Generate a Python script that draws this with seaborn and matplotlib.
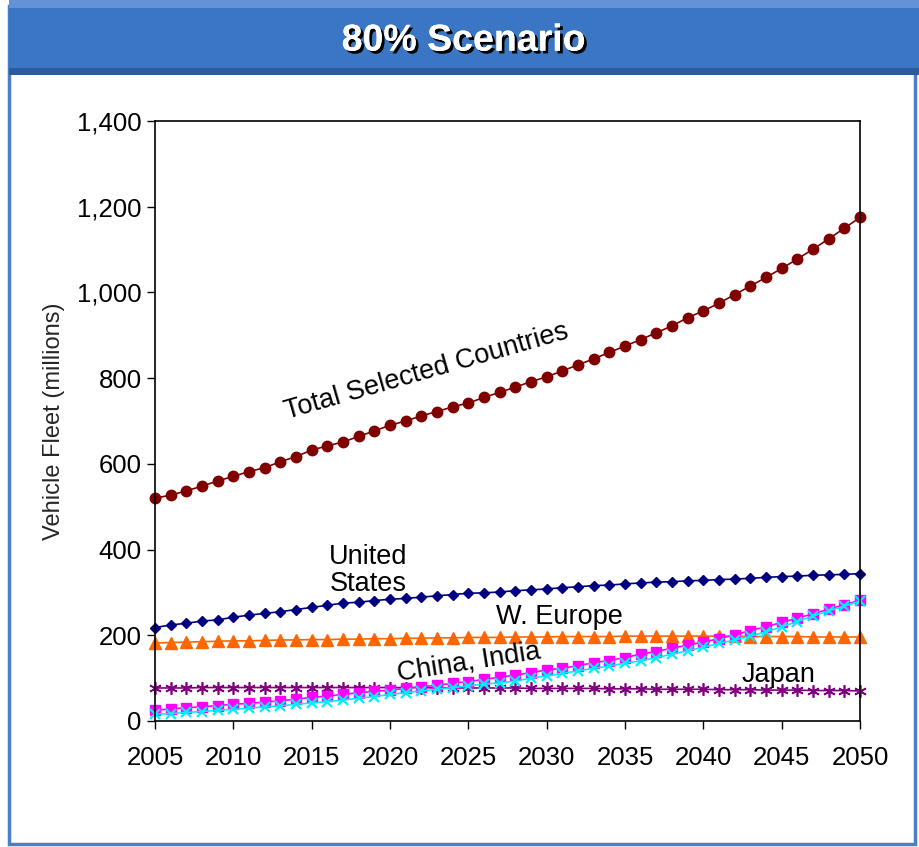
import numpy as np
import pandas as pd
import seaborn as sns
import matplotlib
matplotlib.use('Agg')
import matplotlib.pyplot as plt
import matplotlib.patheffects as pe
from matplotlib.patches import Rectangle

years = list(range(2005, 2051))

total = [520, 527, 537, 548, 560, 571, 582, 591, 605, 617,
         632, 642, 651, 664, 677, 690, 700, 712, 722, 733,
         742, 755, 767, 779, 792, 803, 817, 831, 845, 860,
         875, 890, 906, 922, 941, 957, 975, 995, 1015, 1035,
         1056, 1078, 1101, 1125, 1150, 1175]
us = [218, 224, 228, 233, 236, 242, 247, 251, 255, 260,
      265, 270, 275, 277, 281, 284, 286, 289, 292, 295,
      298, 299, 301, 304, 306, 308, 311, 313, 316, 317,
      320, 322, 324, 325, 327, 328, 330, 331, 333, 335,
      337, 338, 340, 341, 342, 344]
w_europe = [182, 183, 184, 185, 186, 187, 187, 188, 189, 189,
            190, 190, 191, 191, 192, 192, 193, 193, 194, 194,
            195, 195, 195, 196, 196, 196, 197, 197, 197, 197,
            198, 198, 198, 198, 198, 198, 198, 198, 197, 197,
            197, 197, 196, 196, 196, 196]
japan = [77, 77, 77, 78, 78, 78, 78, 78, 78, 78,
         78, 78, 78, 78, 78, 78, 78, 78, 77, 77,
         77, 77, 77, 77, 76, 76, 76, 76, 76, 75,
         75, 75, 74, 74, 74, 74, 73, 73, 73, 72,
         72, 72, 71, 71, 71, 70]
china = [25, 28, 31, 33, 36, 39, 41, 44, 47, 51,
         55, 58, 62, 66, 69, 72, 76, 80, 83, 88,
         92, 97, 102, 107, 113, 119, 123, 129, 136, 141,
         148, 156, 162, 170, 177, 184, 192, 201, 211, 220,
         230, 240, 250, 261, 271, 282]
india = [16, 17, 20, 22, 25, 27, 30, 33, 35, 39,
         42, 45, 49, 53, 57, 62, 66, 70, 74, 78,
         82, 86, 89, 93, 100, 105, 111, 117, 123, 128,
         135, 140, 148, 156, 164, 172, 181, 189, 198, 208,
         220, 232, 245, 257, 268, 280]

# drawing order as in the original (later ones on top)
series = [
    (total, '#800000', 'o', 7.5, 1.0),
    (us, '#000080', 'D', 5.5, 1.0),
    (w_europe, '#FF6600', '^', 8, 1.0),
    (japan, '#800080', (6, 2, 0), 9, 1.2),
    (china, '#FF00FF', 's', 7, 1.0),
    (india, '#00EEFF', 'x', 7.5, 1.6),
]

sns.set_style('white')
plt.rcParams['font.family'] = ['Liberation Sans', 'DejaVu Sans']

fig = plt.figure(figsize=(9.2, 8.47), dpi=100)

# frame and title banner
fig.patches.append(Rectangle((0.010, 0.003), 0.985, 0.990, transform=fig.transFigure,
                             facecolor='white', edgecolor='#4A7FC8', lw=2.5, zorder=0))
fig.patches.append(Rectangle((0.010, 0.911), 0.990, 0.089, transform=fig.transFigure,
                             facecolor='#3B76C4', edgecolor='none', zorder=1))
fig.patches.append(Rectangle((0.010, 0.991), 0.990, 0.009, transform=fig.transFigure,
                             facecolor='#6393D6', edgecolor='none', zorder=1))
fig.patches.append(Rectangle((0.010, 0.911), 0.990, 0.009, transform=fig.transFigure,
                             facecolor='#2D5C9E', edgecolor='none', zorder=1))
fig.text(0.504, 0.952, '80% Scenario', ha='center', va='center', color='white',
         fontsize=27, fontweight='bold', zorder=3,
         path_effects=[pe.withSimplePatchShadow(offset=(2, -2), shadow_rgbFace='black', alpha=1.0),
                       pe.Normal()])

ax = fig.add_axes([0.1685, 0.1488, 0.7663, 0.7083])
ax.set_zorder(5)
ax.set_facecolor('white')

for vals, col, mk, ms, mew in series:
    df = pd.DataFrame({'year': years, 'value': vals})
    sns.lineplot(data=df, x='year', y='value', ax=ax, color=col, marker=mk,
                 markersize=ms, markeredgecolor=col, markerfacecolor=col,
                 markeredgewidth=mew, linewidth=1.2, clip_on=False)

ax.set_xlim(2005, 2050)
ax.set_ylim(0, 1400)
ax.set_xticks(range(2005, 2051, 5))
ax.set_yticks(range(0, 1401, 200))
ax.set_yticklabels([f'{v:,}' for v in range(0, 1401, 200)])
ax.set_xlabel('')
ax.set_ylabel('Vehicle Fleet (millions)', fontsize=17, labelpad=9)
ax.tick_params(axis='both', direction='out', length=5.5, width=1, labelsize=18.5,
               colors='black', bottom=True, left=True)
ax.tick_params(axis='y', pad=4)
ax.tick_params(axis='x', pad=12.5)
for s in ax.spines.values():
    s.set_color('black')
    s.set_linewidth(1.2)
    s.set_visible(True)

txt = dict(fontsize=19.5, color='black', ha='center', va='center', zorder=10)
ax.text(2022.3, 814, 'Total Selected Countries', rotation=16, **txt)
ax.text(2018.6, 352, 'United\nStates', linespacing=1.05, **txt)
ax.text(2030.8, 243, 'W. Europe', **txt)
ax.text(2025.0, 137, 'China, India', rotation=9, **txt)
ax.text(2044.8, 108, 'Japan', **txt)

fig.savefig('out.png', dpi=100)
